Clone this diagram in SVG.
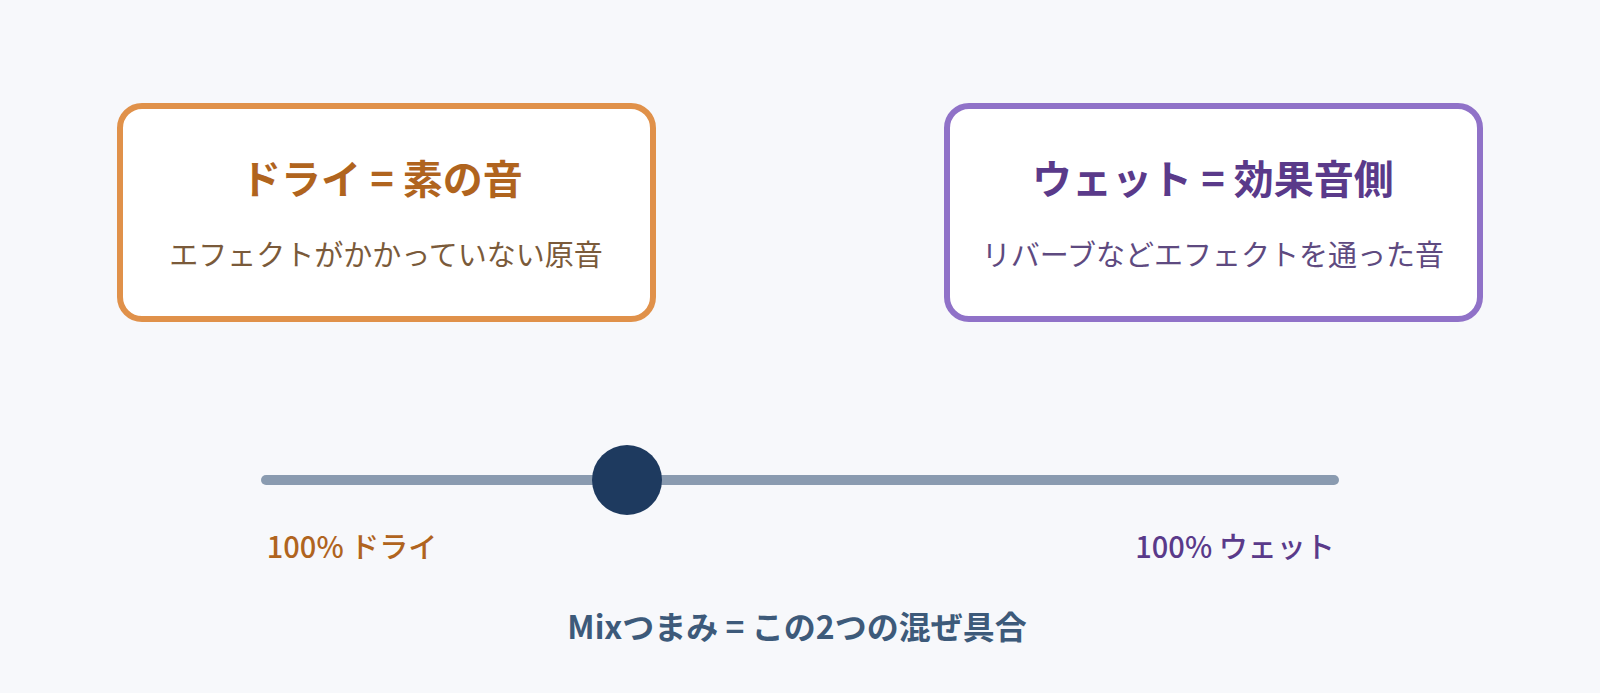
<svg xmlns="http://www.w3.org/2000/svg" width="1600" height="693" viewBox="0 0 1600 693">
<style>
text{font-family:"Noto Sans CJK JP","Noto Sans",sans-serif;text-anchor:middle}
.box{fill:#fff;stroke-width:6}
.t{font-size:40px;font-weight:700}
.s{font-size:29px}
</style>
<rect width="1600" height="693" fill="#F7F8FB"/>
<g id="dry">
<rect class="box" x="120" y="106" width="533" height="213" rx="22" stroke="#E0914A"/>
<text class="t" x="382" y="194" fill="#B0641E">ドライ = 素の音</text>
<text class="s" x="386" y="266" fill="#7A5A3A">エフェクトがかかっていない原音</text>
</g>
<g id="wet">
<rect class="box" x="947" y="106" width="533" height="213" rx="22" stroke="#9072C8"/>
<text class="t" x="1213" y="194" fill="#5A3A8A">ウェット = 効果音側</text>
<text class="s" x="1213" y="266" fill="#5E4A80">リバーブなどエフェクトを通った音</text>
</g>
<g id="connectors">
<line x1="266" y1="480" x2="1334" y2="480" stroke="#8A9BB0" stroke-width="10" stroke-linecap="round"/>
</g>
<g id="knob"><circle cx="627" cy="480" r="35" fill="#1E3A5F"/></g>
<text x="352" y="558" font-size="29" font-weight="500" fill="#B0641E">100% ドライ</text>
<text x="1235" y="558" font-size="29" font-weight="500" fill="#5A3A8A">100% ウェット</text>
<text x="797" y="639" font-size="32" font-weight="700" fill="#3D5A7A">Mixつまみ = この2つの混ぜ具合</text>
</svg>
